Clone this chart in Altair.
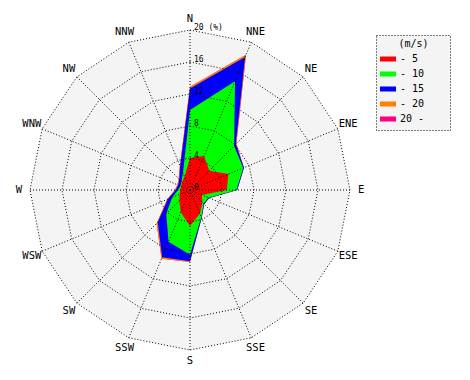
import altair as alt
import pandas as pd

# 16 compass directions, clockwise from north
directions = ["N", "NNE", "NE", "ENE", "E", "ESE", "SE", "SSE",
              "S", "SSW", "SW", "WSW", "W", "WNW", "NW", "NNW"]

# speed classes (legend labels) and colours
classes = ["- 5", "- 10", "- 15", "- 20", "20 -"]
class_colors = ["#ff0000", "#00ff00", "#0000ff", "#ff8000", "#ff0080"]
legend_title = ["(m/s)"]

# cumulative frequency (%) per direction, up to each speed class
cum_5 = [4.0, 4.6, 3.4, 5.2, 4.6, 1.6, 2.2, 3.2, 4.5, 3.0, 1.9, 1.4, 1.2, 1.2, 1.4, 1.8]
cum_10 = [10.0, 14.7, 7.8, 7.2, 5.8, 2.5, 2.4, 3.7, 8.1, 7.0, 4.2, 2.4, 1.5, 1.3, 1.5, 2.3]
cum_15 = [12.7, 18.0, 8.1, 7.3, 5.9, 2.6, 2.5, 3.8, 8.9, 9.1, 5.7, 3.0, 1.8, 1.6, 1.9, 3.2]
cum_20 = [12.9, 18.3, 8.2, 7.3, 5.9, 2.6, 2.5, 3.8, 9.0, 9.3, 5.9, 3.1, 1.9, 1.7, 2.0, 3.3]
cum_all = [12.9, 18.3, 8.2, 7.3, 5.9, 2.6, 2.5, 3.8, 9.0, 9.3, 5.9, 3.1, 1.9, 1.7, 2.0, 3.3]
series = [cum_5, cum_10, cum_15, cum_20, cum_all]

# grid rings (%) and their labels
rings = [4, 8, 12, 16, 20]
ring_labels_pos = [0, 4, 8, 12, 16, 20]
ring_labels = ["0", "4", "8", "12", "16", "20 (%)"]
label_radius = 21.4

rows = []
for cls, vals in zip(classes, series):
    for i, v in enumerate(vals):
        rows.append({"cls": cls, "idx": i, "pct": v})
rose = pd.DataFrame(rows)

ring_df = pd.DataFrame([{"ring": r, "idx": i, "pct": r} for r in rings for i in range(16)])
dir_df = pd.DataFrame({"dir": directions, "idx": list(range(16))})
tick_df = pd.DataFrame({"pct": ring_labels_pos, "text": ring_labels})
legend_df = pd.DataFrame({"cls": classes, "k": list(range(len(classes)))})
title_df = pd.DataFrame({"t": legend_title})

R = 22.75
xs = alt.Scale(domain=[-R, R])
ys = alt.Scale(domain=[-R, R])
X = alt.X("x:Q", scale=xs, axis=None)
Y = alt.Y("y:Q", scale=ys, axis=None)
color_scale = alt.Scale(domain=classes, range=class_colors)
FONT = "DejaVu Sans Mono"


def polar(ch):
    return ch.transform_calculate(
        th="datum.idx * PI / 8"
    ).transform_calculate(
        x="datum.pct * sin(datum.th)", y="datum.pct * cos(datum.th)"
    )


background = polar(alt.Chart(ring_df).transform_filter("datum.ring == 20")).mark_line(
    interpolate="linear-closed", fill="#f4f4f4", strokeWidth=0, stroke="#f4f4f4"
).encode(x=X, y=Y, order="idx:Q")

layers = [background]
for cls in reversed(classes):
    layers.append(
        polar(alt.Chart(rose).transform_filter(alt.datum.cls == cls)).mark_line(
            interpolate="linear-closed", filled=True
        ).encode(x=X, y=Y, order="idx:Q",
                 color=alt.Color("cls:N", scale=color_scale, legend=None))
    )

ring_lines = polar(alt.Chart(ring_df)).mark_line(
    interpolate="linear-closed", color="black", strokeWidth=1, strokeDash=[1, 2]
).encode(x=X, y=Y, order="idx:Q", detail="ring:N")

spokes = polar(alt.Chart(dir_df).transform_calculate(pct="20")).transform_calculate(
    x0="0", y0="0"
).mark_rule(color="black", strokeWidth=1, strokeDash=[1, 2]).encode(
    x=alt.X("x0:Q", scale=xs, axis=None), y=alt.Y("y0:Q", scale=ys, axis=None),
    x2="x:Q", y2="y:Q"
)

dir_labels = polar(alt.Chart(dir_df).transform_calculate(pct=str(label_radius))).mark_text(
    font=FONT, fontSize=10.5, color="black", align="center", baseline="middle"
).encode(x=X, y=Y, text="dir:N")

tick_labels = alt.Chart(tick_df).transform_calculate(x="0", y="datum.pct").mark_text(
    font=FONT, fontSize=8, color="black", align="left", baseline="alphabetic", dx=4
).encode(x=X, y=Y, text="text:N")

rose_chart = alt.layer(*layers, ring_lines, spokes, dir_labels, tick_labels).properties(
    width=364, height=364
)

# legend panel
box = alt.Chart(title_df).mark_rect(
    fill="#f4f4f4", stroke="black", strokeWidth=1, strokeDash=[1, 2]
).encode(x=alt.value(0.5), x2=alt.value(74.5), y=alt.value(27.5), y2=alt.value(122.5))

ltitle = alt.Chart(title_df).mark_text(
    font=FONT, fontSize=10, color="black", align="center", baseline="middle"
).encode(x=alt.value(37.5), y=alt.value(36), text="t:N")

swatches = alt.Chart(legend_df).transform_calculate(
    py="48.5 + 15 * datum.k", py2="53.5 + 15 * datum.k"
).mark_rect().encode(
    x=alt.value(4), x2=alt.value(20),
    y=alt.Y("py:Q", scale=None, axis=None), y2="py2:Q",
    color=alt.Color("cls:N", scale=color_scale, legend=None),
)

llabels = alt.Chart(legend_df).transform_calculate(
    py="51 + 15 * datum.k"
).mark_text(font=FONT, fontSize=10, color="black", align="left", baseline="middle").encode(
    x=alt.value(24), y=alt.Y("py:Q", scale=None, axis=None), text="cls:N"
)

legend_chart = alt.layer(box, ltitle, swatches, llabels).properties(width=75, height=130)

chart = alt.hconcat(rose_chart, legend_chart, spacing=4).properties(
    padding=0
).configure_view(stroke=None)

chart.save("out.html", embed_options={"renderer": "svg", "actions": False})
